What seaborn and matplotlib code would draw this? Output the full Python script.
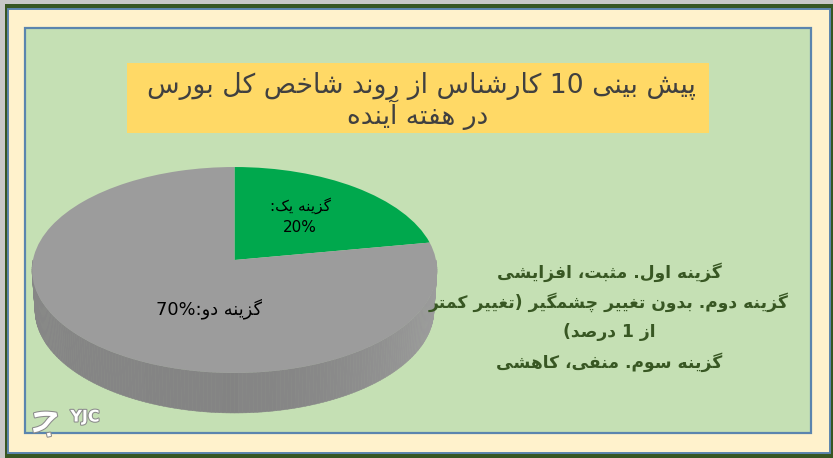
import numpy as np
import matplotlib
matplotlib.use("Agg")
import matplotlib.pyplot as plt
import matplotlib.patheffects as pe
from matplotlib.collections import PolyCollection
from matplotlib.patches import Rectangle
from matplotlib.transforms import Transform
import seaborn as sns

# ---- data ----
slice_names = ["گزینه یک", "گزینه دو"]
slice_values = [20, 70]
slice_colors = ["#00A84D", "#9C9C9C"]
title_lines = ["پیش بینی 10 کارشناس از روند شاخص کل بورس", "در هفته آینده"]
note_lines = ["گزینه اول. مثبت، افزایشی",
              "گزینه دوم. بدون تغییر چشمگیر (تغییر کمتر",
              "از 1 درصد)",
              "گزینه سوم. منفی، کاهشی"]

# ---- minimal Persian shaping (matplotlib has no bidi/joining) ----
F = {}
def _f4(ch, start):
    F[ch] = (start, start + 1, start + 2, start + 3)
def _f2(ch, start):
    F[ch] = (start, start + 1, None, None)
for ch, s in zip("بتثجحخسشصضطظعغفقلمنه", [0xFE8F,0xFE95,0xFE99,0xFE9D,0xFEA1,0xFEA5,0xFEB1,0xFEB5,0xFEB9,0xFEBD,
                                          0xFEC1,0xFEC5,0xFEC9,0xFECD,0xFED1,0xFED5,0xFEDD,0xFEE1,0xFEE5,0xFEE9]):
    _f4(ch, s)
for ch, s in zip("پچکگی", [0xFB56,0xFB7A,0xFB8E,0xFB92,0xFBFC]):
    _f4(ch, s)
for ch, s in zip("اآدذرزژو", [0xFE8D,0xFE81,0xFEA9,0xFEAB,0xFEAD,0xFEAF,0xFB8A,0xFEED]):
    _f2(ch, s)
MIRROR = {"(": ")", ")": "("}

def fa(text):
    out = []
    for i, c in enumerate(text):
        if c not in F:
            out.append(MIRROR.get(c, c))
            continue
        prev = text[i - 1] if i > 0 else ""
        nxt = text[i + 1] if i + 1 < len(text) else ""
        join_prev = prev in F and F[prev][2] is not None
        join_next = nxt in F and F[c][2] is not None
        iso, fin, ini, med = F[c]
        if join_prev and join_next:
            g = med
        elif join_prev:
            g = fin
        elif join_next:
            g = ini
        else:
            g = iso
        out.append(chr(g))
    # visual order: reverse all, keep number runs in reading order
    i = 0
    s = "".join(out)
    tokens = []
    while i < len(s):
        if s[i].isdigit():
            j = i
            while j < len(s) and (s[j].isdigit() or s[j] == "%"):
                j += 1
            tokens.append(s[i:j])
            i = j
        else:
            tokens.append(s[i])
            i += 1
    return "".join(reversed(tokens))

# ---- figure ----
sns.set_theme(style="white")
plt.rcParams["font.family"] = ["DejaVu Sans"]
fig = plt.figure(figsize=(8.33, 4.58), dpi=100, facecolor="#C8C8C8")
ax = fig.add_axes([0, 0, 1, 1])

CX, CY, A, B, K, DEPTH = 234.5, 260.0, 102.0, 201.5, 0.097, 40.0

class Persp(Transform):
    input_dims = output_dims = 2
    is_separable = False
    has_inverse = False
    def __init__(self, bx=B, dy=0.0):
        super().__init__()
        self.bx, self.dy = bx, dy
    def transform_non_affine(self, v):
        v = np.asarray(v, float)
        d = 1 + K * v[:, 1]
        return np.column_stack([CX + self.bx * v[:, 0] / d, CY - A * v[:, 1] / d + self.dy])

wedges, _ = ax.pie(slice_values, colors=sns.color_palette(slice_colors), startangle=90,
                   counterclock=False, radius=1, wedgeprops=dict(linewidth=0))
ax.set_aspect("auto")
ax.set_xlim(0, 833)
ax.set_ylim(458, 0)
ax.axis("off")
for w in wedges:
    w.set_transform(Persp() + ax.transData)
    w.set_zorder(6)

# frames
def box(x0, y0, x1, y1, fc, ec="none", lw=0, z=1):
    ax.add_patch(Rectangle((x0, y0), x1 - x0, y1 - y0, fc=fc, ec=ec, lw=lw, zorder=z))
box(5, 4, 833, 458, "#375623", z=1)
box(8, 9, 830, 453, "#FFF2CC", ec="#5B85AE", lw=1.4, z=2)
box(25, 28, 811, 433, "#C5E0B4", ec="#5B85AE", lw=1.6, z=3)
box(127, 63, 709, 133, "#FFD966", z=4)

# pie side wall
t = np.linspace(np.pi, 2 * np.pi, 181)
unit = np.column_stack([np.cos(t), np.sin(t)])
top = Persp().transform_non_affine(unit)
bot = Persp(bx=B - 3, dy=DEPTH).transform_non_affine(unit)
polys = [[top[i], top[i + 1], bot[i + 1], bot[i]] for i in range(len(t) - 1)]
frac = (top[:-1, 0] - CX) / 202.0
shade = np.where(frac < 0, 0.515 + 0.01 * np.abs(frac), 0.52 + 0.09 * frac ** 2)
ax.add_collection(PolyCollection(polys, facecolors=[(s, s, s) for s in shade],
                                 edgecolors=[(s, s, s) for s in shade], linewidths=0.4, zorder=5))

# texts
ax.text(421, 86, fa(title_lines[0]), ha="center", va="center", fontsize=19.2, color="#404040", zorder=7)
ax.text(418, 115, fa(title_lines[1]), ha="center", va="center", fontsize=19, color="#404040", zorder=7)
for y, line in zip([272, 302, 332, 362], note_lines):
    ax.text(609, y, fa(line), ha="center", va="center", fontsize=12.3, fontweight="bold",
            color="#385723", zorder=7)
ax.text(300, 206, fa(slice_names[0] + ":"), ha="center", va="center", fontsize=11, color="black", zorder=8)
ax.text(300, 227, f"{slice_values[0]}%", ha="center", va="center", fontsize=11, color="black", zorder=8)
ax.text(209, 309, fa(slice_names[1] + ":" + f"{slice_values[1]}%"), ha="center", va="center",
        fontsize=12.8, color="black", zorder=8)

# logo
halo = [pe.withStroke(linewidth=1.5, foreground="#8A8A8A")]
ax.text(85, 417, "YJC", ha="center", va="center", fontsize=11.5, fontweight="bold", color="white",
        path_effects=halo, zorder=9)
ax.text(46, 417, chr(0xFE9F), ha="center", va="center", fontsize=34, color="white", rotation=12,
        path_effects=halo, zorder=9)

fig.savefig("out.png", dpi=100, facecolor=fig.get_facecolor())
